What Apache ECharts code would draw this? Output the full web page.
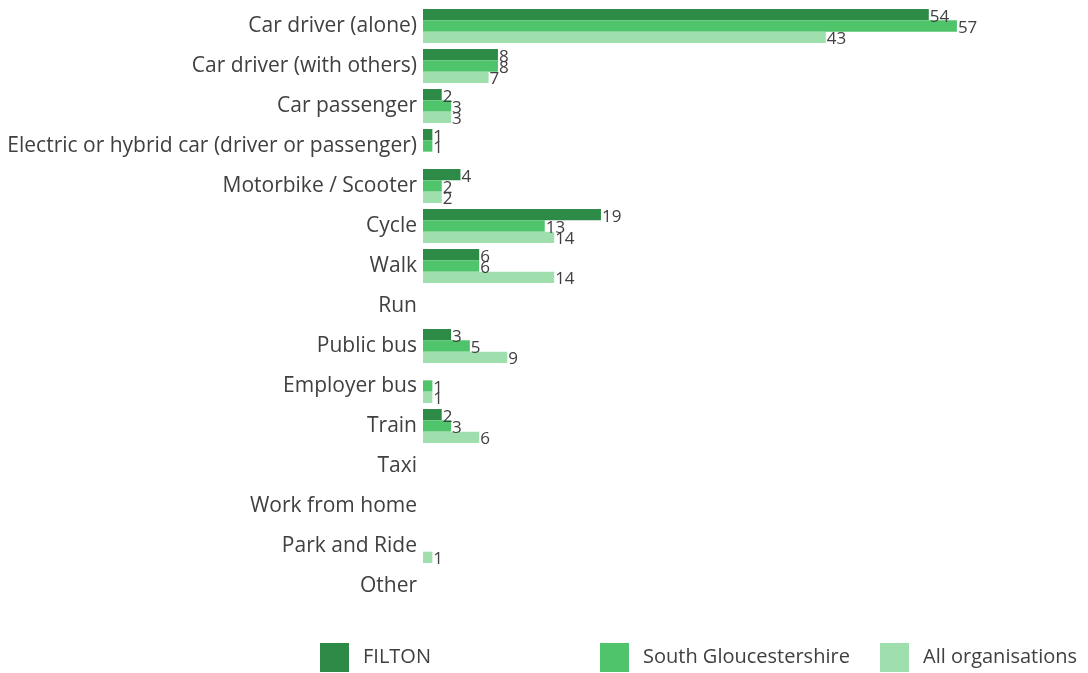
<!DOCTYPE html>
<html><head><meta charset="utf-8">
<script src="https://cdn.jsdelivr.net/npm/echarts@6/dist/echarts.min.js"></script>
<style>html,body{margin:0;padding:0;background:#fff}#c{width:1088px;height:673px}</style>
</head><body><div id="c"></div>
<script>
const categories = ["Car driver (alone)","Car driver (with others)","Car passenger","Electric or hybrid car (driver or passenger)","Motorbike / Scooter","Cycle","Walk","Run","Public bus","Employer bus","Train","Taxi","Work from home","Park and Ride","Other"];
const filton = [54,8,2,1,4,19,6,null,3,null,2,null,null,null,null];
const southGlos = [57,8,3,1,2,13,6,null,5,1,3,null,null,null,null];
const allOrgs = [43,7,3,null,2,14,14,null,9,1,6,null,null,1,null];
const seriesNames = ["FILTON","South Gloucestershire","All organisations"];
const colors = ["#2e8b47","#50c46b","#9edfad"];

const chart = echarts.init(document.getElementById('c'));
const font = "'Open Sans', sans-serif";
const mk = (name, data, color) => ({
  name, type:'bar', data, barGap:'0%', barCategoryGap:'15%',
  itemStyle:{color},
  label:{show:true, position:'right', distance:1, offset:[0,2], color:'#404040', fontSize:17, fontFamily:font}
});
const legendBase = (name,left)=>({data:[name], left, top:643, padding:0, itemWidth:29, itemHeight:29, itemGap:14, icon:'rect',
  textStyle:{color:'#404040', fontSize:20, fontFamily:font, padding:[4,0,0,9]}, selectedMode:false});
chart.setOption({
  animation:false,
  grid:{left:423, right:103, top:6, bottom:67, containLabel:false},
  xAxis:{type:'value', min:0, max:60, show:false},
  yAxis:{type:'category', data:categories, inverse:true,
    axisLine:{show:false}, axisTick:{show:false},
    axisLabel:{color:'#404040', fontSize:21, fontFamily:font, margin:6}},
  legend:[legendBase(seriesNames[0],320), legendBase(seriesNames[1],600), legendBase(seriesNames[2],880)],
  series:[mk(seriesNames[0],filton,colors[0]), mk(seriesNames[1],southGlos,colors[1]), mk(seriesNames[2],allOrgs,colors[2])]
});
</script></body></html>
